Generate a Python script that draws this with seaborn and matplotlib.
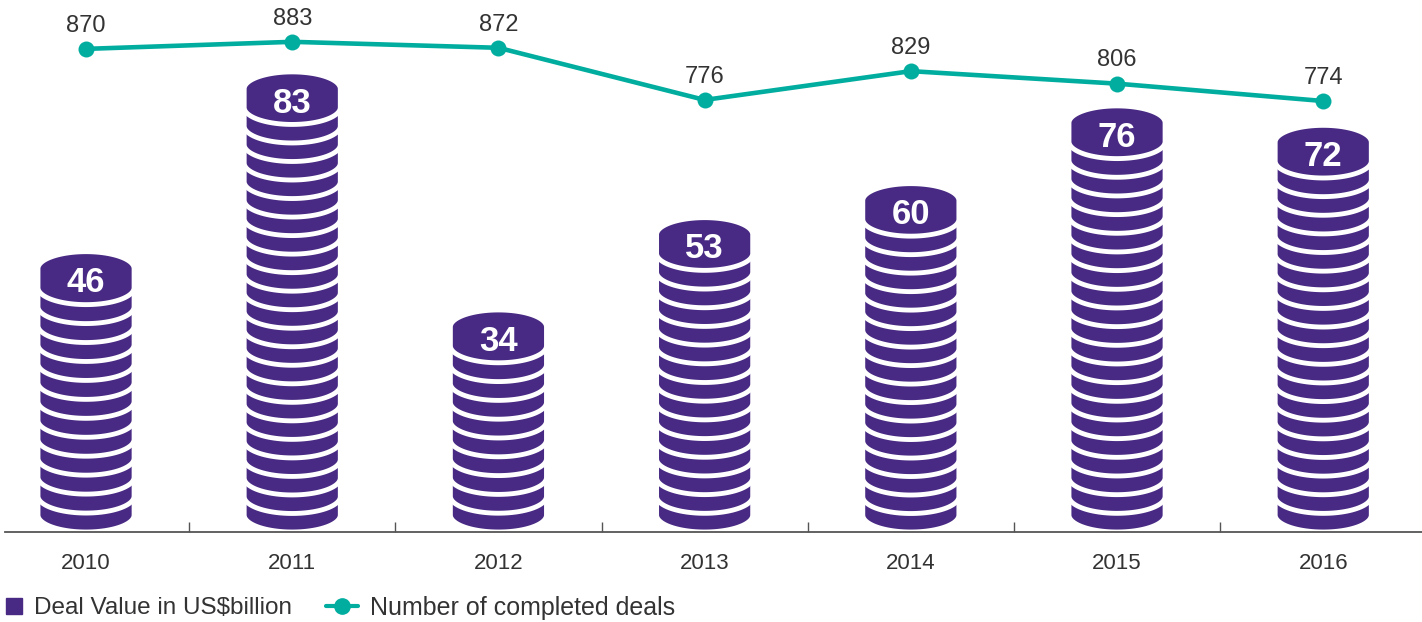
import numpy as np
import matplotlib
matplotlib.use("Agg")
import matplotlib.pyplot as plt
from matplotlib.patches import Polygon
from matplotlib.lines import Line2D
import seaborn as sns

# ---- data ----
years = ["2010", "2011", "2012", "2013", "2014", "2015", "2016"]
deal_value = [46, 83, 34, 53, 60, 76, 72]          # US$ billion
completed_deals = [870, 883, 872, 776, 829, 806, 774]

purple = "#482a84"
teal = "#00ad9f"
grey = "#333333"

sns.set_theme(style="white")
plt.rcParams["font.family"] = ["Liberation Sans", "DejaVu Sans"]

fig = plt.figure(figsize=(14.22, 6.22), dpi=100)
ax = fig.add_axes([5 / 1422, 90 / 622, 1417 / 1422, 532 / 622])

# invisible bars give the positions, coins are drawn on top of them
sns.barplot(x=years, y=deal_value, ax=ax, color=purple, alpha=0, width=0.45)

half_w = 0.233      # half width of a coin (category units)
b = 3.5             # half height of the coin ellipse (value units)
top_extra = 8.2     # top face centre sits a bit above the value
pitch_target = 3.79

t = np.linspace(0, np.pi, 60)
for p in ax.patches:
    xc = p.get_x() + p.get_width() / 2
    v = p.get_height()
    y0 = b
    yt = v + top_extra
    n = int((yt - y0) / pitch_target)
    step = (yt - y0) / n
    for k in range(n):
        yb = y0 + k * step
        ytop = yb + step
        lower = np.column_stack([xc - half_w * np.cos(t), yb - b * np.sin(t)])
        upper = np.column_stack([xc + half_w * np.cos(t), ytop + b * np.sin(t)])
        coin = Polygon(np.vstack([lower, upper]), closed=True,
                       facecolor=purple, edgecolor="white", linewidth=3.5,
                       zorder=2 + k * 0.001)
        ax.add_patch(coin)
    ax.text(xc, v + 6.0, f"{v:.0f}", ha="center", va="center_baseline",
            color="white", fontsize=25, fontweight="bold", zorder=3)

ax.set_xlim(-0.393, 6.479)
ax.set_ylim(0, 109.5)
ax.set_yticks([])
ax.set_xlabel("")
ax.set_ylabel("")
for s in ["left", "right", "top"]:
    ax.spines[s].set_visible(False)
ax.spines["bottom"].set_color("#555555")
ax.spines["bottom"].set_linewidth(1.3)
ax.spines["bottom"].set_zorder(5)
ax.set_xticks(range(len(years)))
ax.set_xticklabels(years)
ax.set_xticks(np.arange(0.5, len(years) - 1, 1), minor=True)
ax.tick_params(axis="x", which="major", length=0, pad=15, labelsize=16,
               labelcolor=grey)
ax.tick_params(axis="x", which="minor", direction="in", length=7, width=1,
               color="#555555", bottom=True)

# ---- line on a second axis ----
ax2 = ax.twinx()
xpos = np.arange(len(years))
sns.lineplot(x=xpos, y=completed_deals, ax=ax2, color=teal, linewidth=3.3,
             marker="o", markersize=11.5, markeredgewidth=0, zorder=4)
ax2.set_ylim(-19.5, 960)
ax2.set_yticks([])
ax2.set_ylabel("")
for s in ["left", "right", "top", "bottom"]:
    ax2.spines[s].set_visible(False)
for x, d in zip(xpos, completed_deals):
    ax2.annotate(f"{d}", (x, d), xytext=(0, 18.5), textcoords="offset points",
                 ha="center", va="center_baseline", fontsize=17, color=grey)

# ---- legend (two pieces, different handle widths) ----
h_bar = Line2D([], [], marker="s", color=purple, linestyle="None", markersize=11.5)
h_line = Line2D([], [], marker="o", color=teal, linewidth=3, markersize=11)
fig.legend([h_bar], ["Deal Value in US$billion"], loc="center left",
           bbox_to_anchor=(-0.013, 14 / 622), frameon=False, fontsize=17.5,
           handlelength=0.9, handletextpad=0.35, labelcolor=grey)
fig.legend([h_line], ["Number of completed deals"], loc="center left",
           bbox_to_anchor=(303 / 1422, 14 / 622), frameon=False, fontsize=18,
           handlelength=1.3, handletextpad=0.5, labelcolor=grey)

fig.savefig("out.png", dpi=100)
